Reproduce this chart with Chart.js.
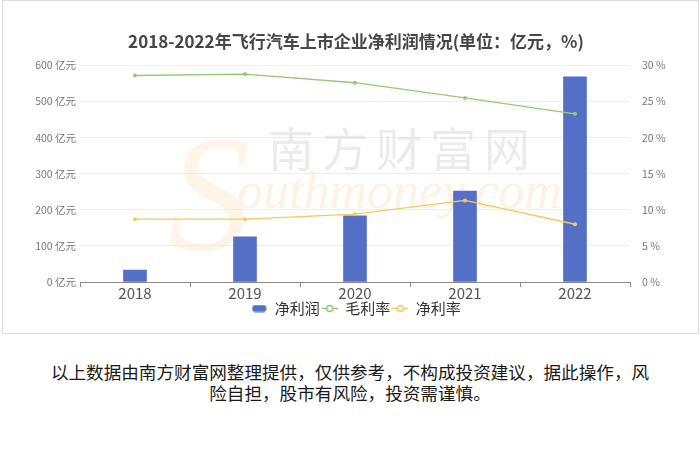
<!DOCTYPE html>
<html>
<head>
<meta charset="utf-8">
<script src="https://cdn.jsdelivr.net/npm/chart.js@4/dist/chart.umd.min.js"></script>
<style>
  body { margin: 0; background: #fff; font-family: "Noto Sans CJK SC", sans-serif; }
  #box { position: absolute; left: 2px; top: 0; width: 697px; height: 334px; border: 1px solid #dcdcdc; box-sizing: border-box; }
  #note { position: absolute; left: 0; top: 361px; width: 700px; text-align: center; font-size: 17.6px; line-height: 21px; color: #1a1a1a; }
</style>
</head>
<body>
<div id="box"><canvas id="chart" width="695" height="332"></canvas></div>
<div id="note">以上数据由南方财富网整理提供，仅供参考，不构成投资建议，据此操作，风<br>险自担，股市有风险，投资需谨慎。</div>
<script>
const years = ['2018', '2019', '2020', '2021', '2022'];
const netProfit = [33, 125, 183, 252, 568];          // 亿元
const grossMargin = [28.6, 28.8, 27.6, 25.5, 23.3];  // %
const netMargin = [8.7, 8.7, 9.4, 11.3, 8.0];        // %
const leftTicks = [0, 600, 100];
const rightTicks = [0, 30, 5];

const BLUE = '#5470c6', GREEN = '#91cc75', YELLOW = '#fac858';
const FONT = '"Noto Sans CJK SC", sans-serif';

// legend symbols, echarts style
function barIcon() {
    const c = document.createElement('canvas');
    c.width = 15; c.height = 8;
    const g = c.getContext('2d');
    g.fillStyle = BLUE;
    g.beginPath();
    g.roundRect(0.5, 0.5, 14, 7, 3);
    g.fill();
    return c;
}
function lineIcon(color) {
    const c = document.createElement('canvas');
    c.width = 16; c.height = 9;
    const g = c.getContext('2d');
    g.strokeStyle = color;
    g.lineWidth = 1.5;
    g.beginPath();
    g.moveTo(0, 4.5); g.lineTo(16, 4.5);
    g.stroke();
    g.fillStyle = '#fff';
    g.beginPath();
    g.arc(8, 4.5, 3, 0, Math.PI * 2);
    g.fill();
    g.stroke();
    return c;
}
const icons = [barIcon(), lineIcon(GREEN), lineIcon(YELLOW)];

const watermark = {
    id: 'watermark',
    beforeDatasetsDraw(chart) {
        const ctx = chart.ctx;
        ctx.save();
        ctx.fillStyle = 'rgba(252, 228, 198, 0.4)';
        ctx.font = 'italic 165px "Liberation Serif"';
        ctx.textBaseline = 'alphabetic';
        ctx.fillText('S', 165, 248);
        ctx.fillStyle = 'rgba(205, 205, 205, 0.4)';
        ctx.font = '46px "Noto Sans CJK SC"';
        ctx.letterSpacing = '8px';
        ctx.textAlign = 'center';
        ctx.fillText('南方财富网', 400, 165);
        ctx.letterSpacing = '0px';
        ctx.fillStyle = 'rgba(250, 226, 196, 0.45)';
        ctx.font = 'italic 52px "Liberation Serif"';
        ctx.textAlign = 'left';
        ctx.fillText('outhmoney.com', 234, 207);
        ctx.restore();
    }
};

new Chart(document.getElementById('chart'), {
    data: {
        labels: years,
        datasets: [{
            type: 'bar',
            label: '净利润',
            data: netProfit,
            backgroundColor: BLUE,
            barThickness: 23,
            yAxisID: 'y',
            order: 2
        }, {
            type: 'line',
            label: '毛利率',
            data: grossMargin,
            borderColor: GREEN,
            backgroundColor: GREEN,
            borderWidth: 1.3,
            pointRadius: 2,
            pointBorderWidth: 0,
            tension: 0,
            yAxisID: 'y1',
            order: 1
        }, {
            type: 'line',
            label: '净利率',
            data: netMargin,
            borderColor: YELLOW,
            backgroundColor: YELLOW,
            borderWidth: 1.3,
            pointRadius: 2,
            pointBorderWidth: 0,
            tension: 0,
            yAxisID: 'y1',
            order: 1
        }]
    },
    options: {
        responsive: false,
        animation: false,
        layout: { padding: { top: 0, bottom: 7, left: 11, right: 0 } },
        scales: {
            x: {
                grid: { display: true, drawOnChartArea: false, drawTicks: true, tickLength: 5, color: '#8a8a8a', offset: true },
                border: { color: '#8a8a8a' },
                ticks: { color: '#555', font: { family: FONT, size: 15 }, padding: -3 }
            },
            y: {
                position: 'left',
                min: leftTicks[0], max: leftTicks[1],
                grid: { color: '#eeeeee', drawTicks: false },
                border: { display: false },
                ticks: {
                    stepSize: leftTicks[2], color: '#777', padding: 4,
                    font: { family: FONT, size: 10.5 },
                    callback: v => v + ' 亿元'
                },
                afterFit: s => { s.width = 66; }
            },
            y1: {
                position: 'right',
                min: rightTicks[0], max: rightTicks[1],
                grid: { display: false },
                border: { display: false },
                ticks: {
                    stepSize: rightTicks[2], color: '#777', padding: 4,
                    font: { family: FONT, size: 10.5 },
                    callback: v => v + ' %'
                },
                afterFit: s => { s.width = 68; }
            }
        },
        plugins: {
            title: {
                display: true,
                text: '2018-2022年飞行汽车上市企业净利润情况(单位：亿元，%)',
                color: '#464646',
                font: { family: FONT, size: 17, weight: 'bold' },
                padding: { top: 30, bottom: 14 }
            },
            legend: {
                position: 'bottom',
                labels: {
                    color: '#333',
                    font: { family: FONT, size: 15 },
                    usePointStyle: true,
                    pointStyleWidth: 16,
                    boxHeight: 9,
                    padding: 2,
                    generateLabels: chart => chart.data.datasets.map((ds, i) => ({
                        text: ds.label,
                        pointStyle: icons[i],
                        fillStyle: ds.backgroundColor,
                        strokeStyle: ds.borderColor || ds.backgroundColor,
                        lineWidth: 0,
                        fontColor: '#333',
                        hidden: !chart.isDatasetVisible(i),
                        datasetIndex: i
                    }))
                }
            },
            tooltip: { enabled: false }
        }
    },
    plugins: [watermark]
});
</script>
</body>
</html>
